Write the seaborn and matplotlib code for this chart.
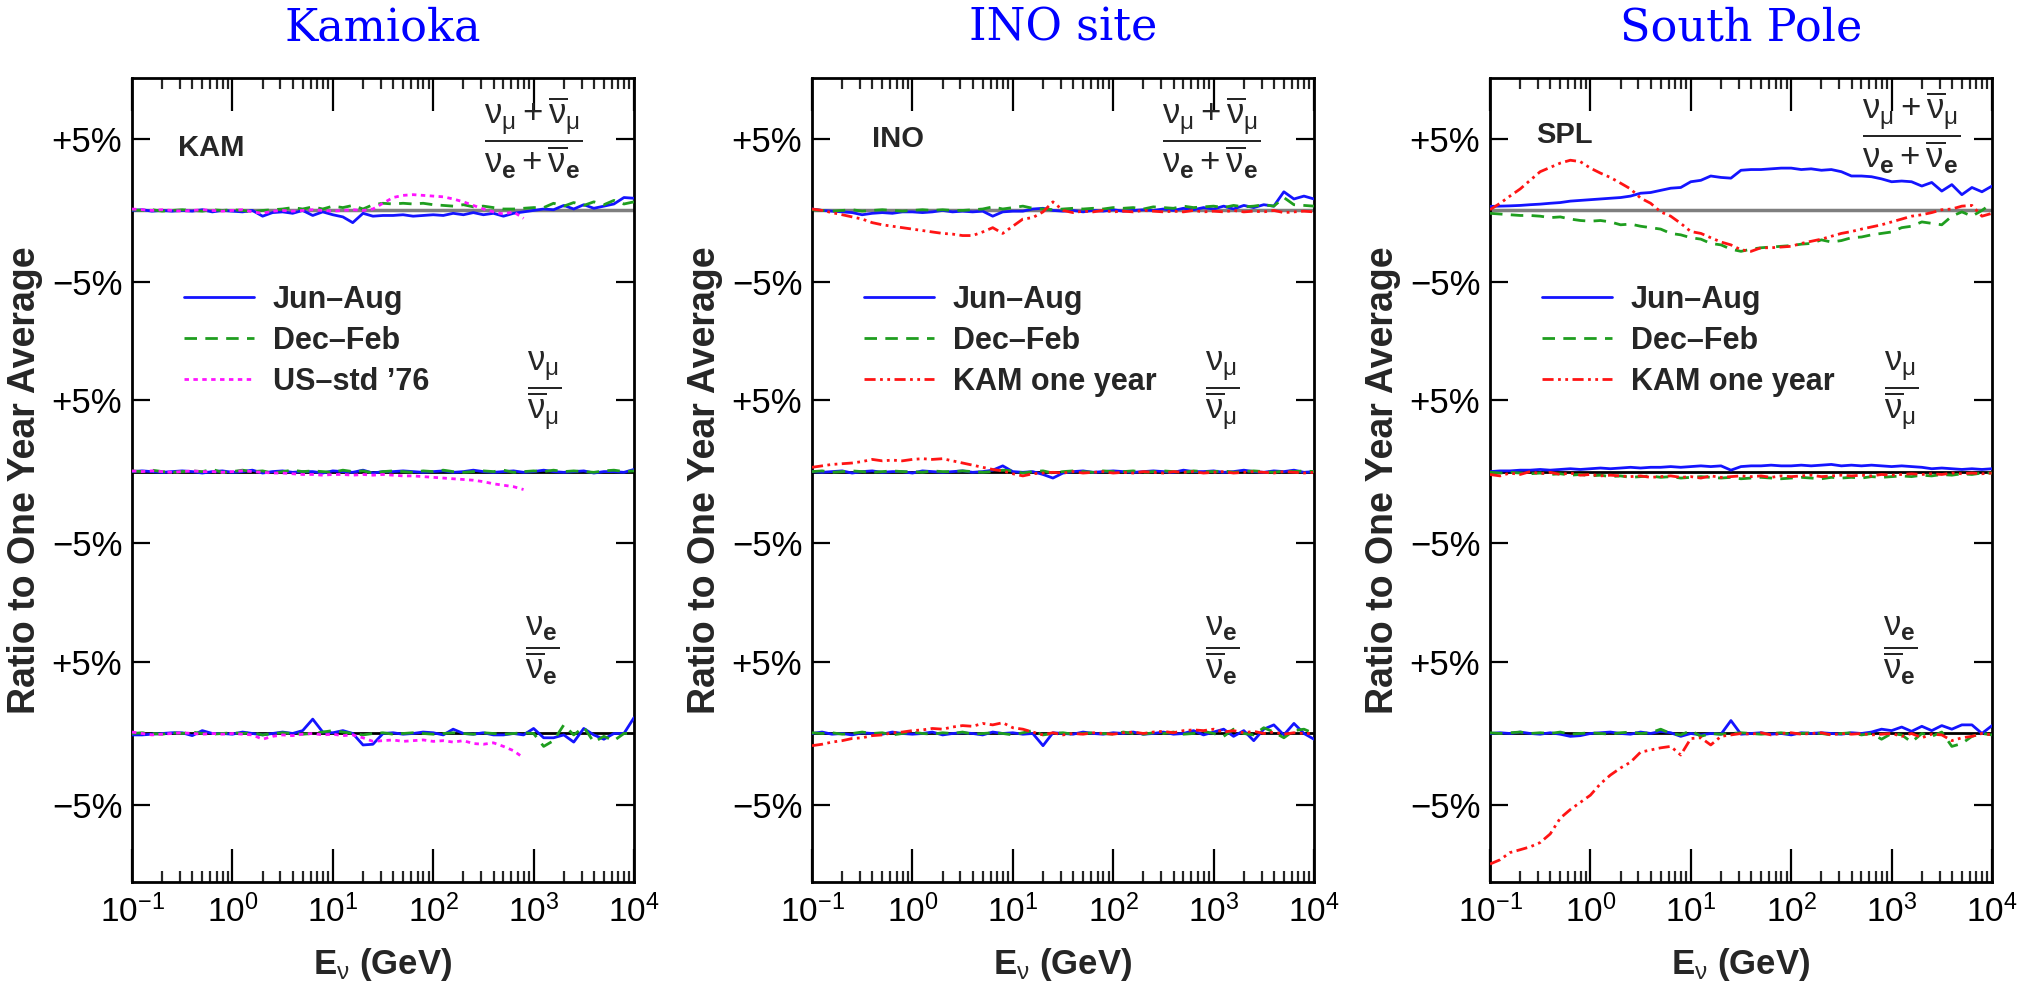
import numpy as np
import matplotlib
matplotlib.use("Agg")
import matplotlib.pyplot as plt
import seaborn as sns
from matplotlib.lines import Line2D

# ---------------- data (percent deviation from one-year average) ----------------
ENERGY = [0.1, 0.126, 0.158, 0.2, 0.251, 0.316, 0.398, 0.501, 0.631, 0.794,
          1.0, 1.26, 1.58, 2.0, 2.51, 3.16, 3.98, 5.01, 6.31, 7.94,
          10.0, 12.6, 15.8, 20.0, 25.1, 31.6, 39.8, 50.1, 63.1, 79.4,
          100.0, 126.0, 158.0, 200.0, 251.0, 316.0, 398.0, 501.0, 631.0, 794.0,
          1000.0, 1260.0, 1580.0, 2000.0, 2510.0, 3160.0, 3980.0, 5010.0, 6310.0, 7940.0,
          10000.0]

SITE_TITLES = ["Kamioka", "INO site", "South Pole"]
SITE_TAGS = ["KAM", "INO", "SPL"]
SERIES_LABELS_KAM = ["Jun\u2013Aug", "Dec\u2013Feb", "US\u2013std \u201976"]
SERIES_LABELS_OTHER = ["Jun\u2013Aug", "Dec\u2013Feb", "KAM one year"]
YTICK_LABELS = ["+5%", "\u22125%", "+5%", "\u22125%", "+5%", "\u22125%"]

# Kamioka
KAM_MUE_JUN = [0.0, 0.05, -0.05, 0.0, -0.05, 0.0, -0.05, 0.05, -0.1, 0.0, -0.05,
               -0.1, 0.0, -0.4, -0.15, -0.1, -0.2, 0.0, -0.35, -0.1, -0.3,
               -0.45, -0.85, -0.2, -0.4, -0.35, -0.35, -0.3, -0.4, -0.35, -0.3,
               -0.35, -0.2, -0.3, -0.15, -0.3, -0.2, -0.4, -0.2, -0.1, 0.0,
               0.1, 0.05, 0.35, 0.1, 0.4, 0.15, 0.3, 0.45, 0.9, 0.85]
KAM_MUE_DEC = [0.05, 0.0, 0.05, -0.05, 0.0, 0.05, 0.0, -0.05, 0.05, 0.0, 0.05,
               0.0, -0.1, 0.0, 0.05, 0.1, 0.2, 0.1, 0.25, 0.1, 0.3,
               0.2, 0.35, 0.1, 0.4, 0.5, 0.45, 0.5, 0.45, 0.5, 0.4,
               0.35, 0.3, 0.4, 0.25, 0.3, 0.2, 0.1, 0.1, 0.15, 0.2,
               0.2, 0.5, 0.3, 0.55, 0.35, 0.6, 0.4, 0.7, 0.45, 0.6]
KAM_MUE_US = [0.1, 0.05, 0.0, 0.05, 0.0, -0.05, 0.0, 0.05, 0.0, -0.05, 0.0,
              0.05, -0.1, -0.2, -0.05, 0.0, -0.05, 0.0, 0.05, 0.0, -0.05,
              0.0, 0.05, 0.0, 0.1, 0.5, 0.9, 1.05, 1.1, 1.05, 1.0,
              0.95, 0.8, 0.6, 0.35, 0.1, -0.1, -0.25, -0.1, -0.55]
KAM_MU_JUN = [0.0, 0.05, 0.0, -0.05, 0.0, 0.05, 0.0, -0.1, 0.0, 0.05, -0.05,
              0.0, 0.1, -0.1, 0.0, 0.05, -0.05, 0.0, 0.0, -0.1, 0.05,
              0.0, -0.05, 0.1, -0.1, 0.0, 0.0, 0.05, 0.0, -0.05, 0.0,
              0.05, -0.05, 0.0, 0.1, 0.0, -0.05, 0.0, 0.05, -0.05, 0.0,
              0.1, 0.0, -0.05, 0.0, 0.05, -0.1, 0.0, 0.0, -0.05, 0.15]
KAM_MU_DEC = [0.05, 0.0, 0.1, 0.0, -0.05, 0.0, 0.05, 0.0, 0.15, -0.05, 0.0,
              0.1, 0.0, 0.05, -0.1, 0.0, 0.1, 0.0, 0.05, 0.0, -0.05,
              0.1, 0.0, 0.05, -0.1, 0.0, 0.05, 0.0, -0.05, 0.05, 0.0,
              0.1, 0.0, -0.05, 0.0, 0.05, 0.0, 0.1, -0.05, 0.0, 0.05,
              0.0, 0.1, 0.0, 0.05, 0.0, -0.05, 0.05, 0.1, 0.0, 0.05]
KAM_MU_US = [0.05, 0.0, 0.05, 0.0, -0.05, 0.0, 0.05, 0.0, 0.0, -0.05, 0.0,
             0.05, 0.0, -0.05, -0.1, -0.1, -0.15, -0.2, -0.2, -0.25, -0.2,
             -0.2, -0.25, -0.2, -0.25, -0.2, -0.25, -0.3, -0.3, -0.35, -0.4,
             -0.45, -0.5, -0.55, -0.6, -0.7, -0.85, -0.95, -1.05, -1.25]
KAM_E_JUN = [-0.1, -0.1, -0.05, 0.0, 0.05, 0.05, -0.15, 0.2, 0.0, 0.0, -0.05,
             0.1, 0.0, -0.1, 0.0, 0.1, 0.0, 0.2, 1.0, 0.1, 0.05,
             0.2, 0.0, -0.8, -0.75, 0.0, 0.05, -0.05, 0.0, 0.1, 0.05,
             -0.1, 0.3, 0.0, -0.05, 0.05, -0.1, -0.1, 0.0, -0.1, 0.35,
             -0.3, -0.3, -0.1, -0.6, 0.35, -0.1, -0.4, 0.0, 0.0, 1.1]
KAM_E_DEC = [0.0, 0.05, 0.0, -0.05, 0.05, 0.0, 0.1, 0.0, -0.05, 0.0, 0.05,
             0.0, 0.05, -0.1, 0.0, 0.05, 0.0, -0.05, 0.0, 0.1, 0.2,
             0.1, 0.0, -0.1, 0.0, 0.05, -0.05, 0.0, 0.05, 0.0, -0.05,
             0.0, 0.05, 0.0, -0.05, 0.05, 0.0, -0.05, 0.0, 0.05, 0.0,
             -0.9, -0.5, 0.6, -0.1, 0.45, -0.6, -0.2, -0.5, 0.0, 0.0]
KAM_E_US = [0.1, 0.0, -0.1, -0.05, 0.0, 0.05, 0.0, -0.05, 0.0, -0.05, 0.0,
            -0.05, -0.1, -0.4, -0.2, -0.1, -0.15, -0.05, 0.0, -0.1, -0.05,
            -0.15, -0.1, -0.3, -0.55, -0.5, -0.45, -0.55, -0.5, -0.45, -0.55,
            -0.5, -0.6, -0.5, -0.7, -0.75, -0.65, -0.9, -1.2, -1.7]

# INO site
INO_MUE_JUN = [0.1, 0.0, -0.05, -0.1, -0.15, -0.3, -0.2, -0.15, -0.2, -0.1, -0.1,
               -0.15, -0.1, 0.0, -0.1, -0.05, -0.1, -0.05, -0.4, -0.1, -0.05,
               -0.05, 0.1, 0.15, 0.0, -0.05, 0.0, -0.1, 0.0, -0.05, 0.05,
               -0.05, 0.0, 0.05, 0.0, 0.1, 0.0, 0.15, 0.05, 0.2, 0.1,
               0.3, 0.1, 0.35, 0.2, 0.4, 0.3, 1.3, 0.8, 1.0, 0.8]
INO_MUE_DEC = [0.05, 0.0, -0.05, 0.0, 0.05, -0.05, 0.0, 0.05, 0.0, -0.05, 0.0,
               0.05, 0.0, 0.05, 0.0, 0.0, 0.05, 0.1, 0.25, 0.1, 0.2,
               0.3, 0.15, 0.1, 0.05, 0.1, 0.15, 0.1, 0.15, 0.1, 0.2,
               0.15, 0.2, 0.1, 0.25, 0.2, 0.15, 0.3, 0.2, 0.25, 0.3,
               0.2, 0.35, 0.25, 0.3, 0.4, 0.3, 0.9, 0.4, 0.35, 0.3]
INO_MUE_KAM = [0.1, 0.0, -0.15, -0.3, -0.45, -0.6, -0.85, -1.0, -1.1, -1.2, -1.3,
               -1.4, -1.5, -1.6, -1.65, -1.75, -1.75, -1.5, -1.2, -1.6, -1.1,
               -0.6, -0.5, -0.1, 0.6, 0.0, -0.15, -0.05, -0.1, 0.0, -0.1,
               -0.05, -0.1, 0.0, -0.05, -0.1, -0.05, -0.1, 0.0, -0.1, -0.05,
               -0.1, 0.0, -0.1, -0.05, -0.1, 0.0, -0.15, -0.1, -0.05, -0.1]
INO_MU_JUN = [0.0, -0.05, 0.0, 0.05, -0.1, 0.0, 0.05, -0.05, 0.0, 0.0, -0.1,
              0.05, 0.0, -0.05, 0.0, 0.05, -0.05, 0.0, 0.1, 0.4, 0.0,
              -0.05, 0.0, -0.2, -0.45, -0.1, 0.0, 0.05, -0.05, 0.0, 0.05,
              0.0, -0.05, 0.0, 0.05, 0.0, -0.05, 0.1, 0.0, 0.0, 0.05,
              -0.05, 0.0, 0.1, 0.0, -0.05, 0.05, 0.0, 0.1, -0.05, 0.0]
INO_MU_DEC = [0.0, 0.05, -0.05, 0.0, 0.05, 0.0, -0.05, 0.0, 0.05, 0.0, 0.0,
              -0.05, 0.05, 0.0, 0.0, 0.05, 0.0, -0.05, 0.0, 0.1, 0.05,
              -0.1, 0.0, 0.05, -0.1, 0.0, 0.05, 0.0, -0.05, 0.05, 0.0,
              0.0, 0.05, -0.05, 0.0, 0.05, 0.0, -0.05, 0.05, 0.0, 0.0,
              0.05, -0.05, 0.0, 0.05, 0.0, -0.05, 0.05, 0.0, 0.05, 0.0]
INO_MU_KAM = [0.3, 0.4, 0.5, 0.55, 0.6, 0.7, 0.85, 0.75, 0.8, 0.75, 0.85,
              0.9, 0.85, 0.9, 0.75, 0.6, 0.45, 0.3, 0.15, 0.05, -0.15,
              -0.3, -0.15, -0.1, -0.05, -0.1, 0.0, -0.1, -0.05, 0.0, -0.1,
              -0.05, -0.1, 0.0, -0.05, -0.1, 0.0, -0.05, 0.0, -0.1, -0.05,
              0.0, -0.1, -0.05, 0.0, -0.05, -0.1, 0.0, -0.05, -0.1, -0.05]
INO_E_JUN = [0.0, 0.1, -0.05, 0.0, -0.1, 0.05, 0.0, -0.05, 0.1, 0.0, -0.05,
             0.0, 0.1, -0.1, 0.0, 0.05, 0.0, -0.1, 0.1, 0.0, 0.05,
             -0.05, 0.0, -0.85, 0.05, 0.0, -0.05, 0.1, 0.0, -0.05, 0.05,
             0.0, 0.1, -0.05, 0.0, 0.1, -0.05, 0.0, 0.2, -0.1, 0.1,
             0.3, -0.2, 0.2, -0.5, 0.3, 0.6, -0.1, 0.7, 0.0, -0.4]
INO_E_DEC = [0.05, 0.0, 0.05, -0.05, 0.0, 0.1, 0.0, 0.05, -0.1, 0.0, 0.1,
             0.0, -0.05, 0.05, 0.0, 0.1, -0.05, 0.0, 0.05, 0.0, -0.1,
             0.05, 0.2, -0.1, 0.0, 0.05, -0.05, 0.0, 0.05, 0.0, -0.05,
             0.1, 0.0, -0.05, 0.05, 0.0, 0.1, -0.05, 0.0, 0.15, 0.0,
             -0.2, 0.3, 0.0, -0.1, 0.4, 0.1, -0.3, 0.2, 0.3, 0.0]
INO_E_KAM = [-0.85, -0.75, -0.6, -0.5, -0.35, -0.3, -0.15, -0.1, 0.05, 0.1, 0.2,
             0.25, 0.35, 0.3, 0.45, 0.55, 0.5, 0.7, 0.6, 0.75, 0.4,
             0.3, 0.1, -0.1, 0.05, -0.1, 0.0, -0.05, 0.05, 0.0, -0.05,
             0.05, 0.1, 0.0, 0.1, 0.15, 0.05, 0.2, 0.25, 0.2, 0.3,
             0.1, 0.2, 0.05, 0.15, 0.0, 0.1, -0.05, 0.05, 0.0, 0.0]

# South Pole
SPL_MUE_JUN = [0.28, 0.3, 0.32, 0.35, 0.4, 0.44, 0.5, 0.55, 0.65, 0.7, 0.75,
               0.8, 0.85, 0.9, 1.0, 1.2, 1.25, 1.4, 1.55, 1.6, 2.0,
               2.1, 2.4, 2.3, 2.25, 2.8, 2.85, 2.85, 2.9, 2.95, 2.95,
               2.85, 2.9, 2.8, 2.85, 2.7, 2.4, 2.4, 2.35, 2.2, 2.0,
               2.05, 2.0, 1.7, 1.95, 1.35, 1.8, 1.1, 1.6, 1.3, 1.7]
SPL_MUE_DEC = [-0.2, -0.25, -0.3, -0.35, -0.35, -0.4, -0.5, -0.45, -0.6, -0.7, -0.75,
               -0.7, -0.8, -1.0, -0.95, -1.1, -1.2, -1.3, -1.6, -1.7, -1.9,
               -2.0, -2.3, -2.4, -2.7, -2.85, -2.7, -2.6, -2.55, -2.5, -2.45,
               -2.35, -2.3, -2.05, -2.2, -2.1, -1.9, -1.85, -1.7, -1.6, -1.5,
               -1.2, -1.1, -0.8, -0.9, -1.0, -0.4, -0.1, -0.4, 0.0, 0.5]
SPL_MUE_KAM = [0.05, 0.5, 1.0, 1.5, 2.1, 2.7, 3.0, 3.3, 3.5, 3.4, 2.95,
               2.6, 2.3, 1.9, 1.5, 0.86, 0.5, -0.1, -0.4, -0.9, -1.47,
               -1.6, -1.9, -2.2, -2.4, -2.74, -2.85, -2.6, -2.6, -2.55, -2.5,
               -2.3, -2.15, -2.0, -1.8, -1.6, -1.47, -1.3, -1.15, -1.0, -0.8,
               -0.6, -0.4, -0.3, -0.15, 0.05, 0.1, 0.3, 0.35, -0.4, -0.2]
SPL_MU_JUN = [0.0, 0.05, 0.05, 0.1, 0.1, 0.15, 0.1, 0.15, 0.2, 0.15, 0.2,
              0.25, 0.2, 0.25, 0.3, 0.25, 0.3, 0.3, 0.35, 0.3, 0.35,
              0.4, 0.35, 0.4, 0.1, 0.35, 0.4, 0.4, 0.45, 0.4, 0.4,
              0.45, 0.4, 0.45, 0.5, 0.4, 0.45, 0.4, 0.45, 0.4, 0.35,
              0.4, 0.35, 0.3, 0.2, 0.25, 0.2, 0.15, 0.2, 0.15, 0.2]
SPL_MU_DEC = [-0.05, -0.1, -0.05, -0.1, -0.15, -0.1, -0.2, -0.15, -0.25, -0.2, -0.3,
              -0.25, -0.35, -0.3, -0.4, -0.35, -0.3, -0.4, -0.35, -0.45, -0.4,
              -0.35, -0.4, -0.45, -0.4, -0.5, -0.45, -0.4, -0.45, -0.5, -0.45,
              -0.4, -0.45, -0.5, -0.4, -0.45, -0.4, -0.45, -0.35, -0.4, -0.35,
              -0.3, -0.35, -0.25, -0.3, -0.2, -0.25, -0.15, -0.2, -0.1, -0.1]
SPL_MU_KAM = [-0.2, -0.3, -0.1, -0.2, 0.0, -0.15, -0.05, -0.2, -0.1, -0.25, -0.2,
              -0.3, -0.25, -0.3, -0.35, -0.3, -0.4, -0.35, -0.3, -0.4, -0.35,
              -0.45, -0.3, -0.4, -0.35, -0.3, -0.35, -0.3, -0.4, -0.3, -0.35,
              -0.3, -0.25, -0.35, -0.3, -0.25, -0.3, -0.25, -0.3, -0.2, -0.25,
              -0.2, -0.15, -0.2, -0.15, -0.2, -0.1, -0.15, -0.1, -0.15, -0.1]
SPL_E_JUN = [0.0, 0.05, 0.0, 0.1, 0.0, -0.05, 0.05, -0.05, -0.2, -0.15, 0.0,
             0.05, 0.1, 0.0, -0.05, 0.1, 0.0, 0.15, 0.05, -0.2, 0.0,
             -0.1, 0.0, -0.05, 0.9, -0.05, 0.0, 0.05, -0.05, 0.0, -0.1,
             0.05, 0.0, 0.05, 0.0, -0.05, 0.05, 0.0, 0.1, 0.3, 0.2,
             0.45, 0.15, 0.5, 0.2, 0.55, 0.3, 0.6, 0.6, 0.0, 0.55]
SPL_E_DEC = [0.05, 0.0, 0.05, 0.1, 0.0, 0.05, 0.0, 0.1, -0.05, 0.0, 0.05,
             0.0, -0.05, 0.05, 0.1, 0.0, 0.05, 0.3, 0.0, -0.1, 0.2,
             -0.2, 0.0, -0.05, 0.0, 0.05, 0.0, -0.05, 0.0, 0.05, -0.05,
             0.0, 0.05, 0.0, -0.1, 0.0, 0.05, -0.1, 0.0, -0.4, 0.0,
             -0.1, -0.6, 0.0, -0.2, 0.1, -0.9, -0.7, -0.2, 0.0, -0.1]
SPL_E_KAM = [-9.1, -8.8, -8.3, -8.1, -7.9, -7.6, -7.0, -5.9, -5.3, -4.8, -4.3,
             -3.5, -2.9, -2.4, -2.0, -1.3, -1.15, -1.0, -0.9, -1.5, -0.35,
             -0.3, -0.8, -0.2, -0.1, 0.0, -0.05, 0.05, -0.1, 0.0, 0.05,
             -0.05, 0.0, 0.05, -0.1, 0.0, -0.05, 0.0, -0.1, -0.05, 0.0,
             -0.2, 0.0, -0.3, -0.05, -0.1, -0.5, -0.3, -0.2, 0.0, -0.1]

# ---------------- style ----------------
sns.set_theme(style="white")
plt.rcParams["font.family"] = ["Liberation Sans", "DejaVu Sans"]
plt.rcParams["mathtext.fontset"] = "custom"
plt.rcParams["mathtext.rm"] = "Liberation Sans"
plt.rcParams["mathtext.it"] = "Liberation Sans"
plt.rcParams["mathtext.bf"] = "Liberation Sans:bold"
plt.rcParams["mathtext.sf"] = "Liberation Sans"
plt.rcParams["axes.unicode_minus"] = True

BLUE = "#1414ff"
GREEN = "#1f9e1f"
RED = "#ff1414"
MAGENTA = "#ff14ff"
LS_JUN = "-"
LS_DEC = (0, (4.5, 3.0))
LS_US = (0, (1.6, 1.6))
LS_KAM = (0, (4.0, 1.6, 1.0, 1.6, 1.0, 1.6))
LW = 2.0

OFFSETS = [0.0, -18.2, -36.45]
YLIM = (-46.8, 9.23)

panels = [
    dict(title=SITE_TITLES[0], tag=SITE_TAGS[0], labels=SERIES_LABELS_KAM,
         third_color=MAGENTA, third_ls=LS_US,
         blocks=[(KAM_MUE_JUN, KAM_MUE_DEC, KAM_MUE_US),
                 (KAM_MU_JUN, KAM_MU_DEC, KAM_MU_US),
                 (KAM_E_JUN, KAM_E_DEC, KAM_E_US)],
         tagpos=(0.092, 4.33), fracx=(0.80, 0.821, 0.817), fracy0=5.05),
    dict(title=SITE_TITLES[1], tag=SITE_TAGS[1], labels=SERIES_LABELS_OTHER,
         third_color=RED, third_ls=LS_KAM,
         blocks=[(INO_MUE_JUN, INO_MUE_DEC, INO_MUE_KAM),
                 (INO_MU_JUN, INO_MU_DEC, INO_MU_KAM),
                 (INO_E_JUN, INO_E_DEC, INO_E_KAM)],
         tagpos=(0.12, 5.0), fracx=(0.795, 0.818, 0.817), fracy0=5.05),
    dict(title=SITE_TITLES[2], tag=SITE_TAGS[2], labels=SERIES_LABELS_OTHER,
         third_color=RED, third_ls=LS_KAM,
         blocks=[(SPL_MUE_JUN, SPL_MUE_DEC, SPL_MUE_KAM),
                 (SPL_MU_JUN, SPL_MU_DEC, SPL_MU_KAM),
                 (SPL_E_JUN, SPL_E_DEC, SPL_E_KAM)],
         tagpos=(0.092, 5.26), fracx=(0.84, 0.82, 0.817), fracy0=5.4),
]

FRACTIONS = [
    r"$\dfrac{\nu_{\mu} + \overline{\nu}_{\mu}}{\nu_{\mathbf{e}} + \overline{\nu}_{\mathbf{e}}}$",
    r"$\dfrac{\nu_{\mu}}{\overline{\nu}_{\mu}}$",
    r"$\dfrac{\nu_{\mathbf{e}}}{\overline{\nu}_{\mathbf{e}}}$",
]
FRAC_Y = [None, OFFSETS[1] + 5.62, OFFSETS[2] + 5.75]

W, H = 2033, 981
fig = plt.figure(figsize=(W / 100, H / 100), dpi=100)
lefts = [132, 812, 1490]
ax_w, ax_top, ax_bot = 502, 78, 882

x = np.array(ENERGY)
ytick_pos = []
for off in OFFSETS:
    ytick_pos += [off + 5, off - 5]

for i, p in enumerate(panels):
    ax = fig.add_axes([lefts[i] / W, 1 - ax_bot / H, ax_w / W, (ax_bot - ax_top) / H])
    ax.set_xscale("log")
    # reference lines
    ax.axhline(OFFSETS[0], color="#7f7f7f", lw=2.5, zorder=1)
    ax.axhline(OFFSETS[1], color="black", lw=2.0, zorder=1)
    ax.axhline(OFFSETS[2], color="black", lw=2.0, zorder=1)
    for b, (jun, dec, third) in enumerate(p["blocks"]):
        off = OFFSETS[b]
        for vals, col, ls in ((jun, BLUE, LS_JUN), (dec, GREEN, LS_DEC),
                              (third, p["third_color"], p["third_ls"])):
            yv = np.asarray(vals, dtype=float) + off
            sns.lineplot(x=x[:len(yv)], y=yv, ax=ax, color=col, linewidth=LW,
                         linestyle=ls, estimator=None, sort=False, legend=False,
                         zorder=3)
    ax.set_xlim(0.1, 1e4)
    ax.set_ylim(*YLIM)
    ax.set_yticks(ytick_pos)
    ax.set_yticklabels(YTICK_LABELS)
    ax.set_xticks([0.1, 1, 10, 100, 1000, 10000])
    ax.minorticks_on()
    ax.yaxis.set_minor_locator(matplotlib.ticker.NullLocator())
    ax.xaxis.set_minor_locator(matplotlib.ticker.LogLocator(base=10, subs=np.arange(2, 10), numticks=50))
    ax.tick_params(axis="x", which="major", direction="in", length=24, width=1.6,
                   top=True, bottom=True, labelsize=24, pad=9, colors="black")
    ax.tick_params(axis="x", which="minor", direction="in", length=8, width=1.6,
                   top=True, bottom=True)
    ax.tick_params(axis="y", which="major", direction="in", length=13, width=1.6,
                   left=True, right=True, labelsize=25, pad=7, colors="black")
    for s in ax.spines.values():
        s.set_linewidth(2.0)
        s.set_color("black")
        s.set_visible(True)
    ax.set_ylabel("Ratio to One Year Average", fontsize=27, fontweight="bold")
    ax.yaxis.set_label_coords(-0.177, 0.5)
    ax.set_xlabel(r"$\mathbf{E}_{\nu}$ (GeV)", fontsize=25, fontweight="bold")
    ax.xaxis.set_label_coords(0.5, -0.08)
    # title
    ax.text(0.5, 1.062, p["title"], transform=ax.transAxes, ha="center", va="center",
            fontsize=32, color="#0000ff", family=["DejaVu Serif"])
    # site tag
    tx = matplotlib.transforms.blended_transform_factory(ax.transAxes, ax.transData)
    ax.text(p["tagpos"][0], p["tagpos"][1], p["tag"], transform=tx, ha="left",
            va="center", fontsize=21, fontweight="bold")
    # fractions
    fy = [p["fracy0"], FRAC_Y[1], FRAC_Y[2]]
    for k in range(3):
        ax.text(p["fracx"][k], fy[k], FRACTIONS[k], transform=tx, ha="center",
                va="center", fontsize=25)
    # legend
    handles = [Line2D([], [], color=BLUE, lw=LW, ls=LS_JUN),
               Line2D([], [], color=GREEN, lw=LW, ls=LS_DEC),
               Line2D([], [], color=p["third_color"], lw=LW, ls=p["third_ls"])]
    leg = ax.legend(handles, p["labels"], loc="upper left", bbox_to_anchor=(0.104, 0.743),
                    frameon=False, borderpad=0, borderaxespad=0, handlelength=2.3,
                    handletextpad=0.6, labelspacing=0.36,
                    prop=dict(size=22, weight="bold"))

fig.savefig("out.png", dpi=100, facecolor="white")
